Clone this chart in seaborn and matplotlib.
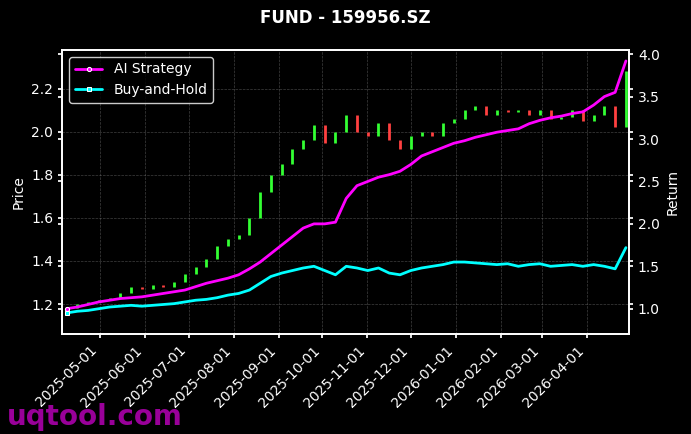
import numpy as np
import pandas as pd
import matplotlib
matplotlib.use("Agg")
import matplotlib.pyplot as plt
import matplotlib.dates as mdates
import seaborn as sns

dates = pd.date_range("2025-04-08", "2026-04-28", periods=53)
close = [1.18, 1.20, 1.21, 1.22, 1.23, 1.25, 1.28, 1.27, 1.29, 1.28, 1.30, 1.34, 1.37, 1.41,
         1.47, 1.50, 1.52, 1.60, 1.72, 1.80, 1.85, 1.92, 1.96, 2.03, 1.95, 2.00, 2.08, 2.00,
         1.98, 2.04, 1.96, 1.92, 1.98, 2.00, 1.98, 2.04, 2.06, 2.10, 2.12, 2.08, 2.10, 2.09,
         2.10, 2.08, 2.10, 2.06, 2.07, 2.10, 2.05, 2.08, 2.12, 2.02, 2.28]
first_open = 1.16
ai_ret = [1.0, 1.02, 1.05, 1.08, 1.10, 1.12, 1.13, 1.14, 1.16, 1.18, 1.20, 1.22, 1.26, 1.30,
          1.33, 1.36, 1.40, 1.47, 1.55, 1.65, 1.75, 1.85, 1.95, 2.00, 2.00, 2.02, 2.30, 2.45,
          2.50, 2.55, 2.58, 2.62, 2.70, 2.80, 2.85, 2.90, 2.95, 2.98, 3.02, 3.05, 3.08, 3.10,
          3.12, 3.18, 3.22, 3.25, 3.27, 3.30, 3.32, 3.40, 3.50, 3.55, 3.92]
bh_ret = [0.95, 0.97, 0.98, 1.00, 1.02, 1.03, 1.04, 1.03, 1.04, 1.05, 1.06, 1.08, 1.10, 1.11,
          1.13, 1.16, 1.18, 1.22, 1.30, 1.38, 1.42, 1.45, 1.48, 1.50, 1.45, 1.40, 1.50, 1.48,
          1.45, 1.48, 1.42, 1.40, 1.45, 1.48, 1.50, 1.52, 1.55, 1.55, 1.54, 1.53, 1.52, 1.53,
          1.50, 1.52, 1.53, 1.50, 1.51, 1.52, 1.50, 1.52, 1.50, 1.47, 1.72]

sns.set_theme(style="dark")
plt.rcParams.update({"figure.facecolor": "black", "axes.facecolor": "black",
                     "text.color": "white", "axes.labelcolor": "white",
                     "xtick.color": "white", "ytick.color": "white",
                     "axes.edgecolor": "white"})
plt.rcParams["font.family"] = ["DejaVu Sans"]

fig, ax = plt.subplots(figsize=(6.91, 4.34), dpi=100)
opens = [first_open] + close[:-1]
for d, o, c in zip(dates, opens, close):
    col = "#33ff33" if c >= o else "#ff4040"
    ax.vlines(d, min(o, c), max(o, c), color=col, linewidth=2)
ax.set_ylabel("Price", fontsize=10)
ax.set_ylim(1.06, 2.38)
ax.grid(True, color="gray", linestyle="--", linewidth=0.5, alpha=0.5)

ax2 = ax.twinx()
df = pd.DataFrame({"date": dates, "AI Strategy": ai_ret, "Buy-and-Hold": bh_ret})
sns.lineplot(data=df, x="date", y="AI Strategy", ax=ax2, color="#ff00ff", linewidth=2,
             marker="o", markersize=3, markevery=[0], label="AI Strategy")
sns.lineplot(data=df, x="date", y="Buy-and-Hold", ax=ax2, color="#00ffff", linewidth=2,
             marker="s", markersize=3, markevery=[0], label="Buy-and-Hold")
ax2.set_ylim(0.7, 4.05)
ax2.set_ylabel("Return", fontsize=10)
ax2.legend(loc="upper left", facecolor="black", edgecolor="white", labelcolor="white", fontsize=10)
ax2.set_xlim(pd.Timestamp("2025-04-05"), pd.Timestamp("2026-04-30"))

ax.xaxis.set_major_locator(mdates.MonthLocator())
ax.xaxis.set_major_formatter(mdates.DateFormatter("%Y-%m-%d"))
plt.setp(ax.get_xticklabels(), rotation=45, ha="right")
ax.set_xlabel("")
ax2.set_xlabel("")
for a in (ax, ax2):
    a.tick_params(left=True, right=True, bottom=True, length=3, labelsize=10)

fig.suptitle("FUND - 159956.SZ", fontweight="bold", color="white", fontsize=12)
fig.subplots_adjust(left=0.09, right=0.91, top=0.885, bottom=0.23)
fig.text(0.01, 0.02, "uqtool.com", color="#990099", fontsize=20, fontweight="bold")
fig.savefig("out.png", dpi=100, facecolor="black")
